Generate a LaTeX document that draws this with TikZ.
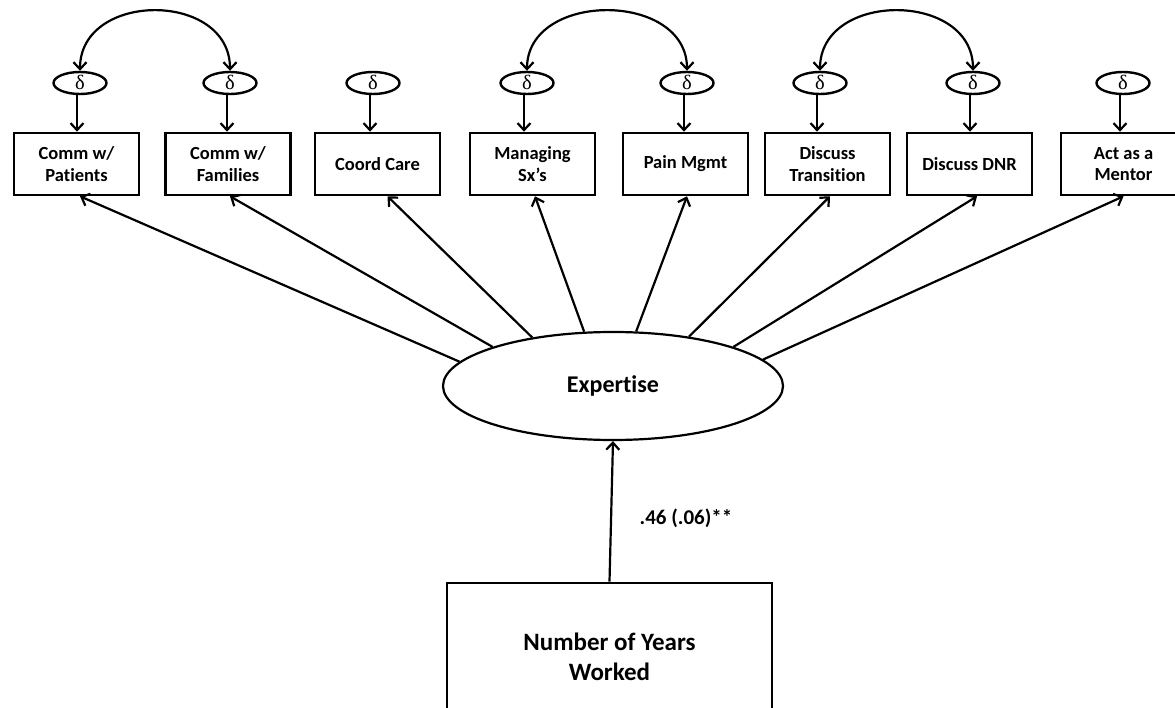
\documentclass[tikz,border=0pt]{standalone}
\usepackage{fontspec}
\setmainfont{Carlito}[Ligatures={NoCommon}]
\newfontfamily\greekfont{Liberation Serif}
\usetikzlibrary{arrows.meta,shapes.geometric}

\begin{document}
\begin{tikzpicture}[x=1pt,y=-1pt,
  barb/.tip={Straight Barb[length=7pt,width=13pt,line width=2.2pt]},
  conn/.style={line width=2.2pt, -barb},
  biconn/.style={line width=2.2pt, barb-barb},
  item/.style={draw, line width=2.6pt, minimum width=125pt, minimum height=62pt,
    inner sep=2pt, align=center, font=\fontsize{18.5}{21.5}\selectfont\bfseries},
  err/.style={draw, ellipse, line width=2.4pt, minimum width=53pt, minimum height=22pt,
    inner sep=0pt, font=\greekfont\fontsize{20.5}{20.5}\selectfont},
  latent/.style={draw, ellipse, line width=2.2pt, minimum width=340pt, minimum height=108pt,
    inner sep=0pt, font=\fontsize{24}{28}\selectfont\bfseries},
  cause/.style={draw, line width=2.6pt, minimum width=325pt, minimum height=148pt,
    inner sep=0pt, align=center, font=\fontsize{25}{30}\selectfont\bfseries}]

\useasboundingbox (0,0) rectangle (1175,708);
\clip (0,0) rectangle (1175,708);

\newcommand{\dsym}{\smash{\raisebox{-7pt}{δ}}}

% indicator boxes
\node[item] (b1) at (76.5,164) {Comm w/\\Patients};
\node[item] (b2) at (228,164) {Comm w/\\Families};
\node[item] (b3) at (377.5,164) {Coord Care};
\node[item] (b4) at (532.5,164) {Managing\\Sx’s};
\node[item] (b5) at (685.5,164) {Pain Mgmt};
\node[item] (b6) at (827.5,164) {Discuss\\Transition};
\node[item] (b7) at (969.5,164) {Discuss DNR};
\node[item] (b8) at (1123.5,164) {Act as a\\Mentor};

% error terms
\node[err] (d1) at (80,83) {\dsym};
\node[err] (d2) at (230,83) {\dsym};
\node[err] (d3) at (373,83) {\dsym};
\node[err] (d4) at (527,83) {\dsym};
\node[err] (d5) at (687,83) {\dsym};
\node[err] (d6) at (820,83) {\dsym};
\node[err] (d7) at (973,83) {\dsym};
\node[err] (d8) at (1123,83) {\dsym};

% latent factor and predictor
\node[latent] (exp) at (613,386) {Expertise};
\node[cause] (yrs) at (609.5,657) {Number of Years\\Worked};
\node[font=\fontsize{21}{24}\selectfont\bfseries] (coef) at (686,518) {.46 (.06)**};

% error paths
\foreach \i in {1,...,8}
  \draw[conn] ([xshift=-3pt]d\i.south) -- ([xshift=-3pt]d\i.south |- b\i.north);

% correlated errors
\draw[biconn] (d1.north) .. controls +(0,-80) and +(0,-80) .. (d2.north);
\draw[biconn] (d4.north) .. controls +(0,-80) and +(0,-80) .. (d5.north);
\draw[biconn] (d6.north) .. controls +(0,-80) and +(0,-80) .. (d7.north);

% loadings
\draw[conn] (exp.171) -- ([xshift=3.5pt]b1.south);
\draw[conn] (exp.162) -- ([xshift=2pt]b2.south);
\draw[conn] (exp.149) -- ([xshift=10pt]b3.south);
\draw[conn] (exp.118) -- ([xshift=2.5pt]b4.south);
\draw[conn] (exp.67) -- ([xshift=1.5pt]b5.south);
\draw[conn] (exp.33) -- ([xshift=2.5pt]b6.south);
\draw[conn] (exp.18.5) -- ([xshift=7.5pt]b7.south);
\draw[conn] (exp.10.3) -- (b8.south);

% structural path
\draw[conn] (yrs.north) -- (exp.south);
\end{tikzpicture}
\end{document}
